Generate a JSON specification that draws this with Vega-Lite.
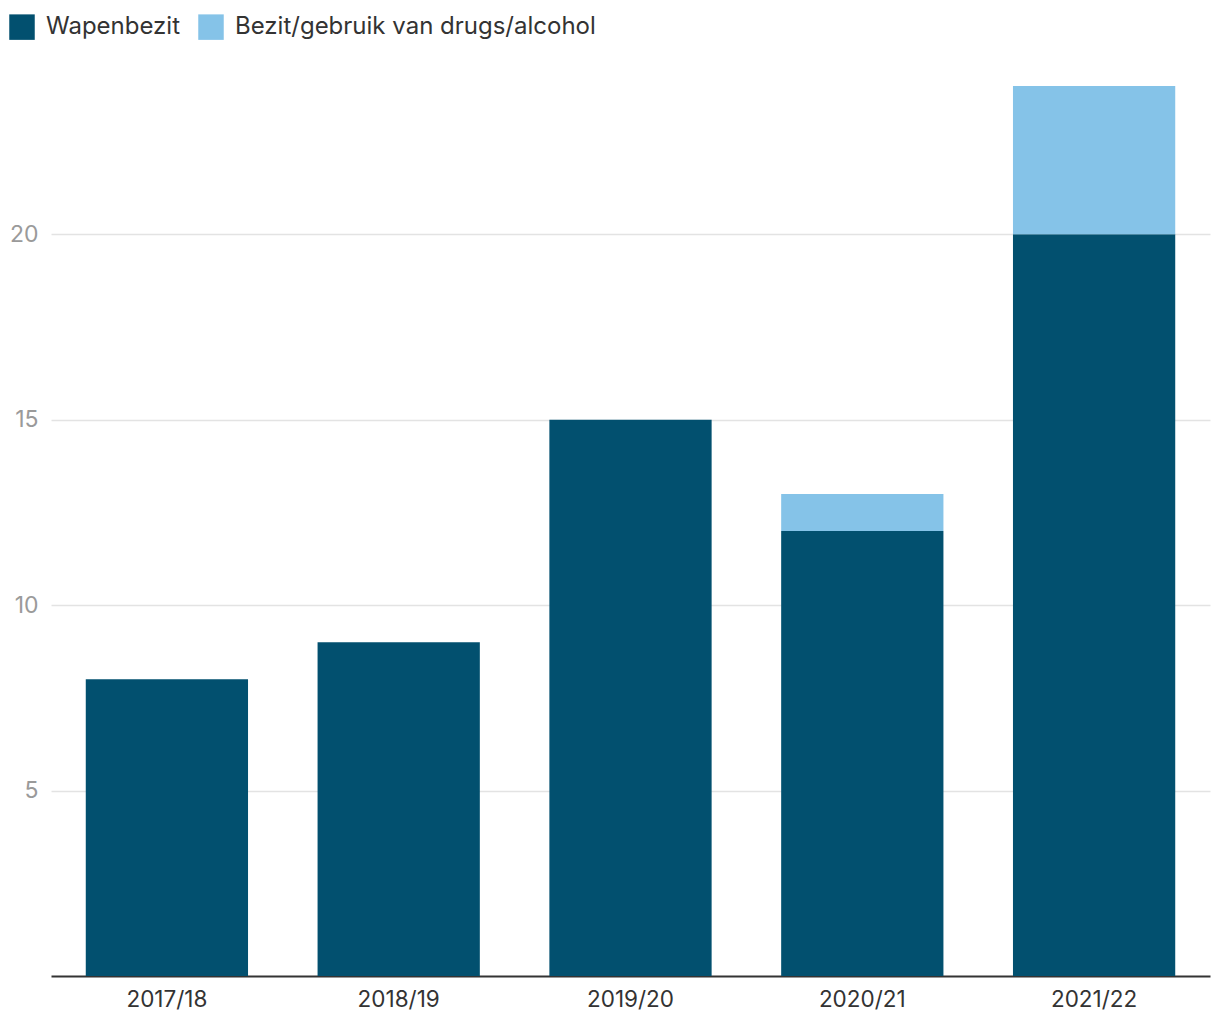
{
  "$schema": "https://vega.github.io/schema/vega-lite/v6.json",
  "autosize": "none",
  "width": 1159,
  "height": 890,
  "padding": {"left": 51, "top": 86, "right": 10, "bottom": 44},
  "background": "white",
  "config": {
    "font": "Inter",
    "view": {"stroke": null}
  },
  "data": {
    "values": [
      {"jaar": "2017/18", "categorie": "Wapenbezit", "aantal": 8, "volgorde": 1},
      {"jaar": "2018/19", "categorie": "Wapenbezit", "aantal": 9, "volgorde": 1},
      {"jaar": "2019/20", "categorie": "Wapenbezit", "aantal": 15, "volgorde": 1},
      {"jaar": "2020/21", "categorie": "Wapenbezit", "aantal": 12, "volgorde": 1},
      {"jaar": "2020/21", "categorie": "Bezit/gebruik van drugs/alcohol", "aantal": 1, "volgorde": 2},
      {"jaar": "2021/22", "categorie": "Wapenbezit", "aantal": 20, "volgorde": 1},
      {"jaar": "2021/22", "categorie": "Bezit/gebruik van drugs/alcohol", "aantal": 4, "volgorde": 2}
    ]
  },
  "mark": {"type": "bar"},
  "encoding": {
    "x": {
      "field": "jaar",
      "type": "nominal",
      "sort": null,
      "scale": {"paddingInner": 0.3, "paddingOuter": 0.15},
      "axis": {
        "title": null,
        "labelAngle": 0,
        "labelFontSize": 22.5,
        "labelColor": "#333333",
        "labelPadding": 12,
        "ticks": false,
        "domainColor": "#333333",
        "domainWidth": 2,
        "grid": false
      }
    },
    "y": {
      "field": "aantal",
      "type": "quantitative",
      "stack": "zero",
      "scale": {"domain": [0, 24], "nice": false},
      "axis": {
        "title": null,
        "values": [5, 10, 15, 20],
        "labelFontSize": 23,
        "labelColor": "#9a9a9a",
        "labelPadding": 13,
        "ticks": false,
        "domain": false,
        "grid": true,
        "gridColor": "#e3e3e3",
        "gridWidth": 1.5
      }
    },
    "color": {
      "field": "categorie",
      "type": "nominal",
      "scale": {
        "domain": ["Wapenbezit", "Bezit/gebruik van drugs/alcohol"],
        "range": ["#02506f", "#85c3e8"]
      },
      "legend": {
        "title": null,
        "orient": "none",
        "direction": "horizontal",
        "legendX": -42,
        "legendY": -72,
        "symbolType": "square",
        "symbolSize": 650,
        "symbolStrokeWidth": 0,
        "labelFontSize": 24,
        "labelColor": "#333333",
        "labelOffset": 11,
        "columnPadding": 17,
        "labelLimit": 500
      }
    },
    "order": {"field": "volgorde", "type": "quantitative"}
  }
}
